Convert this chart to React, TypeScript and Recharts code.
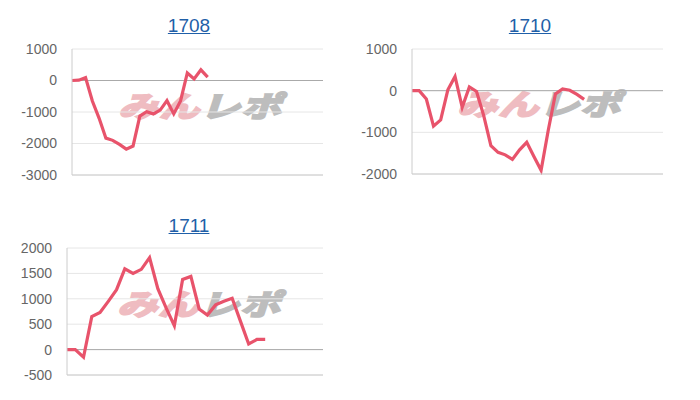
import React from 'react';
import { LineChart, Line, XAxis, YAxis, CartesianGrid, ReferenceLine } from 'recharts';

// 日別の推移 (値は画像から読み取り)
const titles = ['1708', '1710', '1711'];

const values1708 = [0, 10, 90, -650, -1200, -1830, -1900, -2030, -2180, -2080, -1130, -990, -1060, -940, -640, -1060, -650, 240, 50, 340, 110];
const values1710 = [0, 0, -200, -850, -700, 20, 340, -400, 90, -20, -600, -1320, -1480, -1540, -1650, -1420, -1240, -1580, -1910, -950, -80, 40, 10, -90, -210];
const values1711 = [0, 0, -150, 650, 730, 950, 1180, 1590, 1500, 1580, 1810, 1200, 820, 470, 1380, 1440, 800, 680, 880, 950, 1010, 560, 110, 200, 200];

const ticks1708 = [-3000, -2000, -1000, 0, 1000];
const ticks1710 = [-2000, -1000, 0, 1000];
const ticks1711 = [-500, 0, 500, 1000, 1500, 2000];

const toRows = (vals: number[]) => vals.map((v, i) => ({ x: i, v }));

const LINE = '#e8536b';

interface MiniChartProps {
  title: string;
  values: number[];
  ticks: number[];
  xMax: number;
  left: number;
  top: number;
  yWidth: number;
  mTop: number;
  mBottom: number;
  titleX: number;
  titleTop: number;
  markX: number;
  markY: number;
}

function MiniChart(p: MiniChartProps) {
  return (
    <>
      <div
        style={{
          position: 'absolute',
          left: p.titleX - 50,
          top: p.titleTop,
          width: 100,
          textAlign: 'center',
          fontFamily: 'Arial, "Liberation Sans", sans-serif',
          fontSize: 19,
          lineHeight: '20px',
          color: '#1f5fa8',
          textDecoration: 'underline',
        }}
      >
        {p.title}
      </div>
      <div
        style={{
          position: 'absolute',
          left: p.markX,
          top: p.markY,
          fontFamily: '"Noto Sans CJK JP", sans-serif',
          fontWeight: 700,
          fontSize: 40,
          lineHeight: '40px',
          letterSpacing: 1,
          whiteSpace: 'nowrap',
          transform: 'skewX(-18deg) scaleY(0.72)',
          transformOrigin: 'left top',
        }}
      >
        <span style={{ color: '#efbcc1', WebkitTextStroke: '3px #efbcc1' }}>みん</span>
        <span style={{ color: '#bdbdbd', WebkitTextStroke: '3px #bdbdbd' }}>レポ</span>
      </div>
      <div style={{ position: 'absolute', left: p.left, top: p.top }}>
        <LineChart
          width={340}
          height={150}
          data={toRows(p.values)}
          margin={{ top: p.mTop, right: 17, bottom: p.mBottom, left: 0 }}
        >
          <CartesianGrid vertical={false} stroke="#e6e6e6" />
          <XAxis
            type="number"
            dataKey="x"
            domain={[0, p.xMax]}
            tick={false}
            tickLine={false}
            axisLine={{ stroke: '#cccccc' }}
            height={1}
          />
          <YAxis
            domain={[p.ticks[0], p.ticks[p.ticks.length - 1]]}
            ticks={p.ticks}
            interval={0}
            width={p.yWidth}
            tickLine={false}
            tickSize={0}
            tickMargin={15}
            axisLine={{ stroke: '#cccccc' }}
            tick={{ fill: '#666666', fontSize: 14, fontFamily: 'Arial, "Liberation Sans", sans-serif' }}
          />
          <ReferenceLine y={0} stroke="#aaaaaa" />
          <Line
            type="linear"
            dataKey="v"
            stroke={LINE}
            strokeWidth={3.2}
            dot={false}
            isAnimationActive={false}
          />
        </LineChart>
      </div>
    </>
  );
}

export default function App() {
  return (
    <div style={{ position: 'absolute', left: 0, top: 0, width: 700, height: 400, background: '#fff' }}>
      <MiniChart title={titles[0]} values={values1708} ticks={ticks1708} xMax={37}
        left={0} top={40} yWidth={72} mTop={9} mBottom={14}
        titleX={189} titleTop={16} markX={127} markY={90} />
      <MiniChart title={titles[1]} values={values1710} ticks={ticks1710} xMax={35}
        left={340} top={40} yWidth={72} mTop={9} mBottom={15}
        titleX={530} titleTop={16} markX={466} markY={88} />
      <MiniChart title={titles[2]} values={values1711} ticks={ticks1711} xMax={31}
        left={0} top={240} yWidth={67} mTop={8} mBottom={14}
        titleX={189} titleTop={216} markX={126} markY={288} />
    </div>
  );
}
